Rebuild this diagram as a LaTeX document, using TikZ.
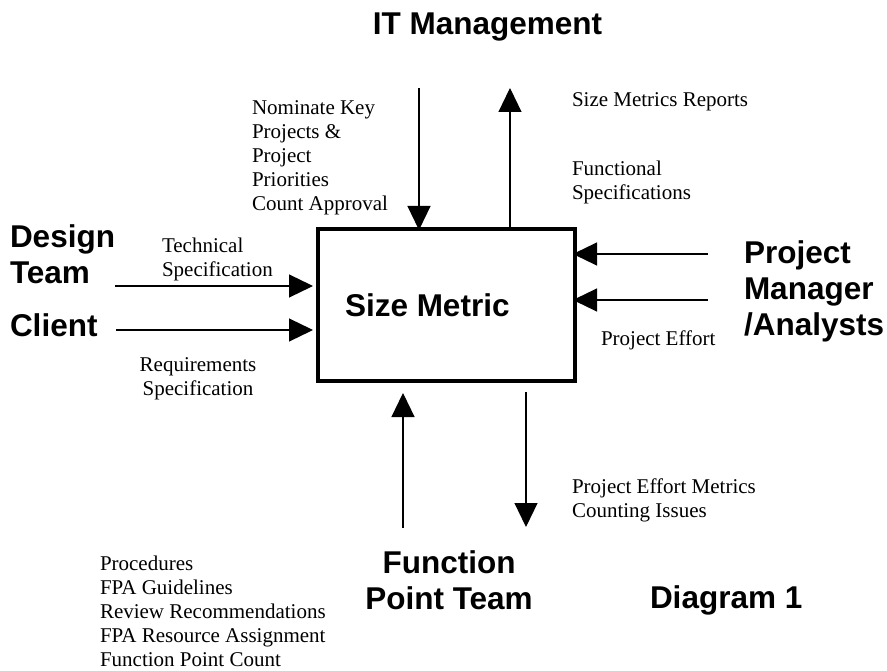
\documentclass[tikz,border=0pt]{standalone}
\usepackage{fontspec}
\setmainfont{Liberation Serif}
\newfontfamily\labelfont{Liberation Sans}
\usetikzlibrary{arrows.meta}
\begin{document}
\begin{tikzpicture}[x=1pt,y=-1pt,
  big/.style={font=\labelfont\bfseries\fontsize{31.5}{36}\selectfont, inner sep=0pt, outer sep=0pt, align=left},
  small/.style={font=\fontsize{21}{24}\selectfont, inner sep=0pt, outer sep=0pt, align=left},
  flow/.style={line width=1.2pt, -{Triangle[length=24pt,width=23pt]}},
  process/.style={draw, line width=4pt, minimum width=257pt, minimum height=152pt, inner sep=0pt}
]
\useasboundingbox (0,0) rectangle (887,671);
% process box
\node[process] (box) at (446.5,305) {};
\node[big, anchor=north west] (title) at (345,294) {Size Metric};
% entities
\node[big, anchor=north] (itm) at (487.5,12.4) {IT Management};
\node[big, anchor=north west] (design) at (10,224.4) {Design\\Team};
\node[big, anchor=north west] (client) at (10,314) {Client};
\node[big, anchor=north west] (pm) at (744,241) {Project\\Manager\\/Analysts};
\node[big, anchor=north, align=center] (fpt) at (449,550.4) {Function\\Point Team};
\node[big, anchor=north west] (diag) at (650,586) {Diagram 1};
% flow labels
\node[small, anchor=north west] (nominate) at (252,100.7) {Nominate Key\\Projects \&\\Project\\Priorities\\Count Approval};
\node[small, anchor=north west] (smr) at (572,92.8) {Size Metrics Reports};
\node[small, anchor=north west] (fs) at (572,160.7) {Functional\\Specifications};
\node[small, anchor=north west] (ts) at (162,237.7) {Technical\\Specification};
\node[small, anchor=north, align=center] (rs) at (198,358) {Requirements\\Specification};
\node[small, anchor=north west] (pe) at (601,331) {Project Effort};
\node[small, anchor=north west] (pem) at (572,478.7) {Project Effort Metrics\\Counting Issues};
\node[small, anchor=north west] (proc) at (100,555.7) {Procedures\\FPA Guidelines\\Review Recommendations\\FPA Resource Assignment\\Function Point Count};
% free ends
\coordinate (cin) at (419,88);
\coordinate (cout) at (510,88);
\coordinate (in1) at (115,286);
\coordinate (in2) at (116,330);
\coordinate (pm1) at (708,254);
\coordinate (pm2) at (708,300);
\coordinate (mech) at (403,528);
\coordinate (outb) at (526,392);
\coordinate (outbend) at (526,527);
% connectors
\draw[flow] (cin) -- ([yshift=-3pt]cin |- box.north);
\draw[flow] (cout |- box.north) -- (cout);
\draw[flow] (in1) -- ([xshift=-3pt]in1 -| box.west);
\draw[flow] (in2) -- ([xshift=-3pt]in2 -| box.west);
\draw[flow] (pm1) -- ([xshift=-4pt]pm1 -| box.east);
\draw[flow] (pm2) -- ([xshift=-4pt]pm2 -| box.east);
\draw[flow] (mech) -- ([yshift=-10pt]mech |- box.south);
\draw[flow] (outb) -- (outbend);
\end{tikzpicture}
\end{document}
